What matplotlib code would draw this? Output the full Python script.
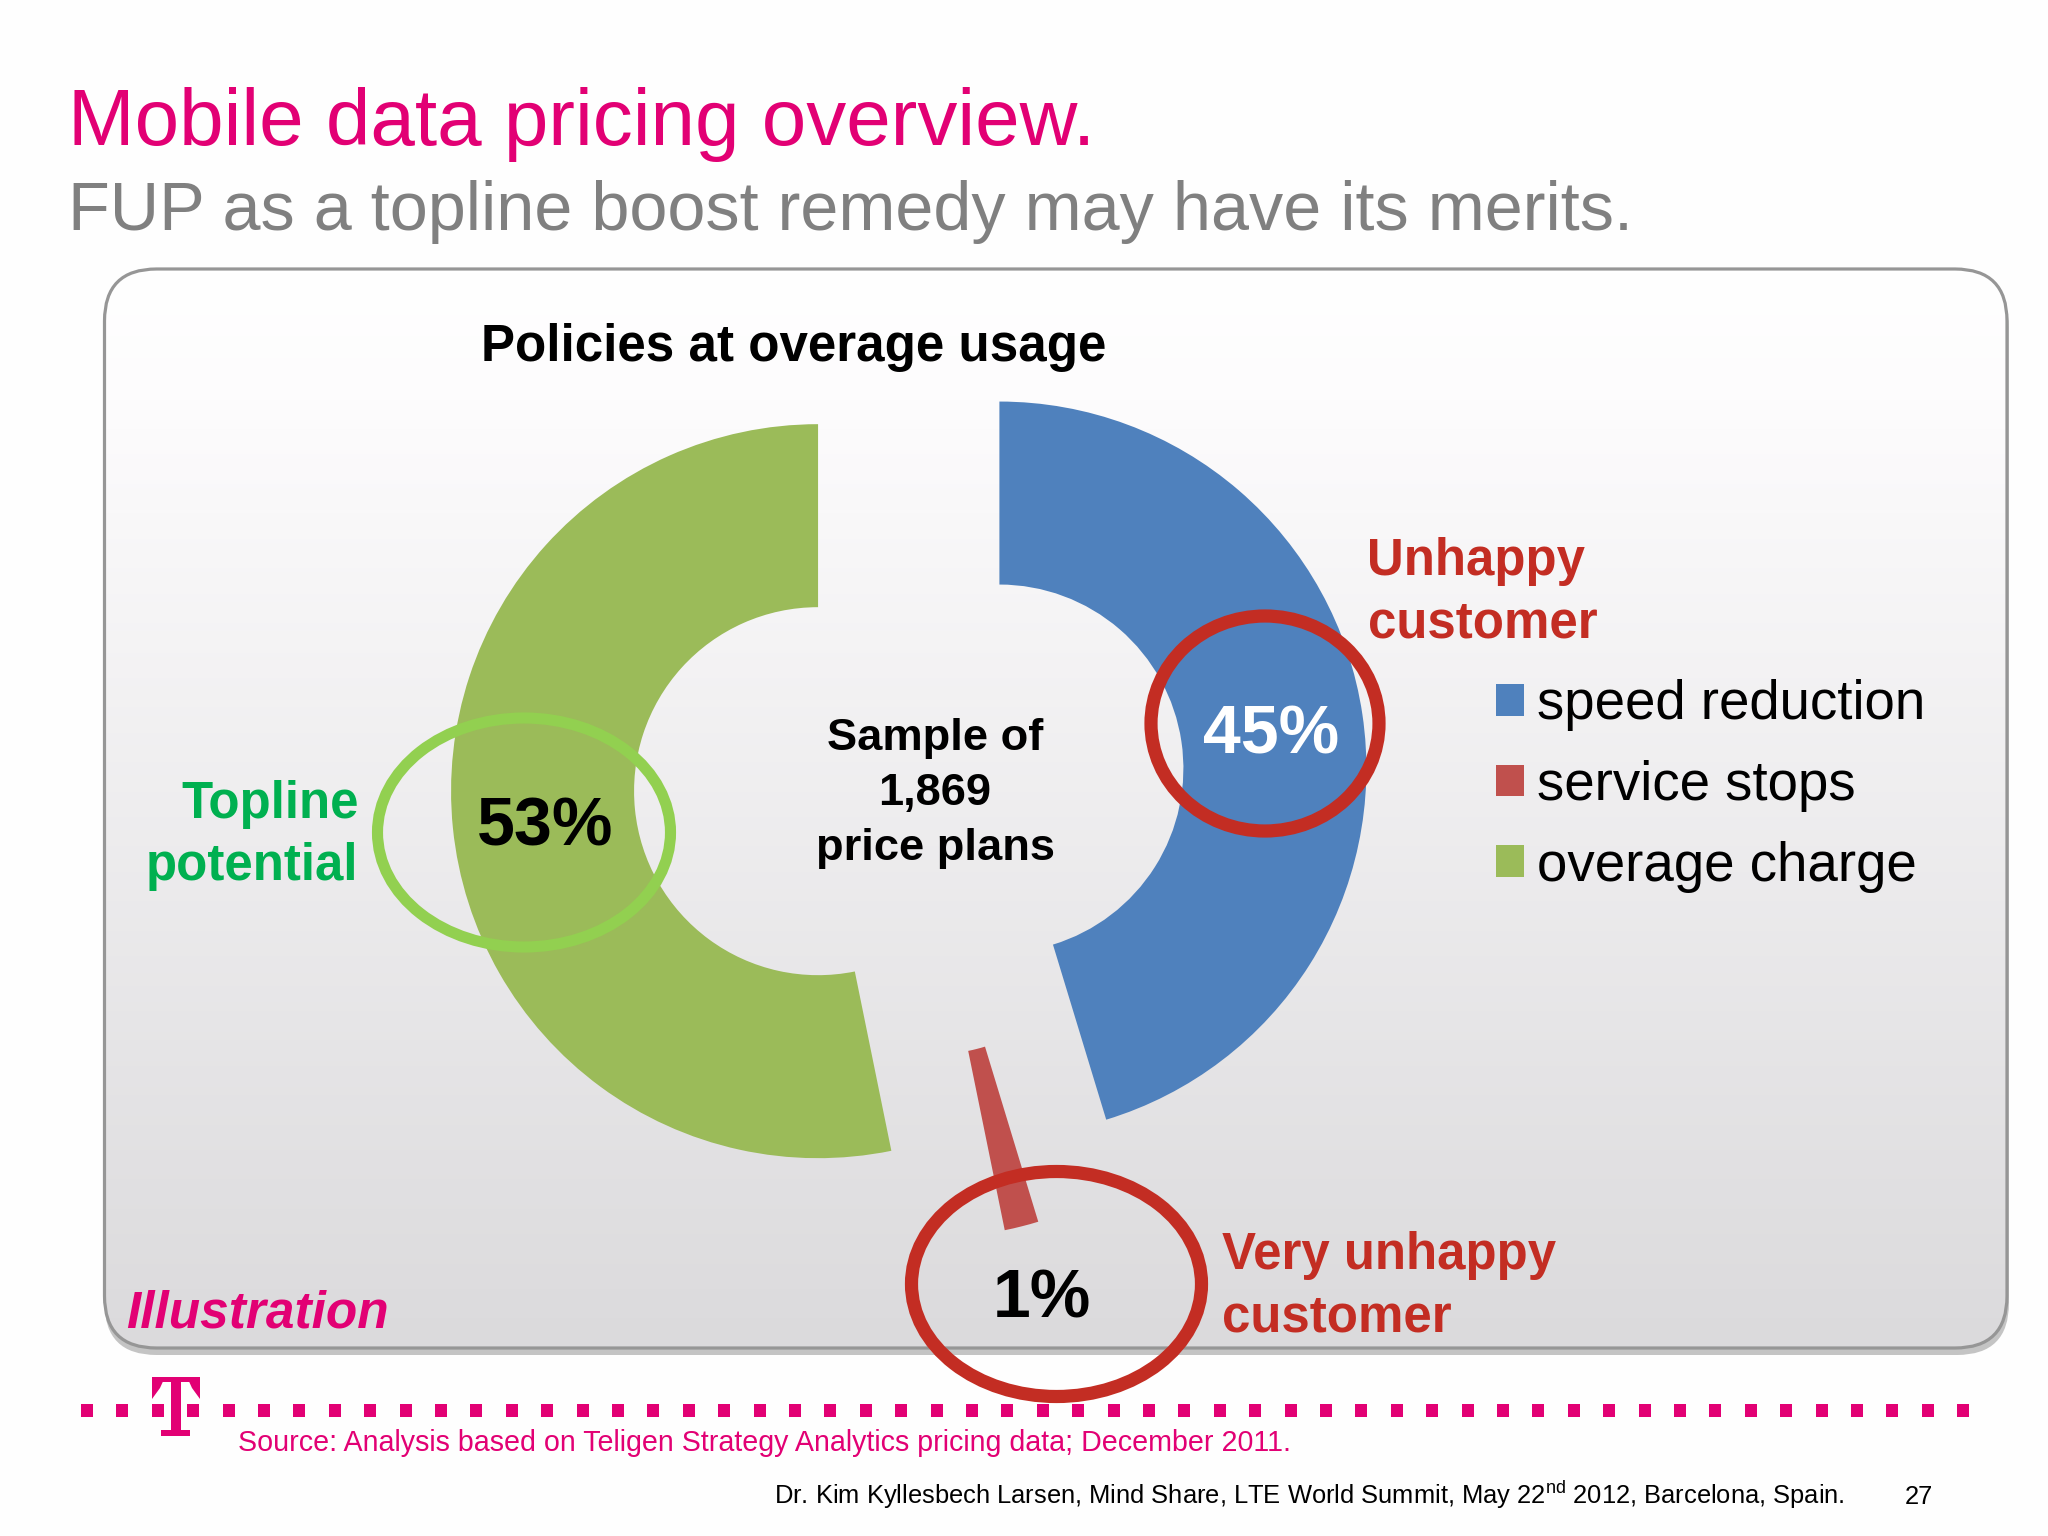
import numpy as np
import matplotlib
matplotlib.use('Agg')
import matplotlib.pyplot as plt
from matplotlib.colors import LinearSegmentedColormap
from matplotlib.patches import Ellipse, FancyBboxPatch, Rectangle

plt.rcParams['font.family'] = ['Liberation Sans', 'DejaVu Sans']
plt.rcParams['mathtext.default'] = 'regular'

policies = ['speed reduction', 'service stops', 'overage charge']
shares = [45.3, 1.5, 53.2]
share_labels = ['45%', '1%', '53%']
colors = ['#4F81BD', '#C0504D', '#9BBB59']

MAGENTA = '#E20074'
RED = '#C32D23'
GREEN = '#00B050'

fig = plt.figure(figsize=(20.48, 15.36), dpi=100, facecolor='#FEFEFE')
# whole figure is one axes in pixels, y going down like the slide
ax = fig.add_axes([0, 0, 1, 1])
ax.set_axis_off()

# panel with shadow and gradient
px0, px1, py0, py1 = 104.5, 2007, 269, 1348
box = 'round,pad=0,rounding_size=52'
ax.add_patch(FancyBboxPatch((px0, py0 + 7), px1 - px0 + 2, py1 - py0, boxstyle=box,
                            fc='#C4C4C4', ec='none', zorder=1))
panel = FancyBboxPatch((px0, py0), px1 - px0, py1 - py0, boxstyle=box,
                       fc='none', ec='#969696', lw=2.3, zorder=3)
ax.add_patch(panel)
grad = LinearSegmentedColormap.from_list('panel', [(0, '#FFFFFF'), (0.12, '#FDFCFD'), (1, '#DBDADC')])
img = ax.imshow(np.linspace(0, 1, 256).reshape(-1, 1), cmap=grad, aspect='auto',
                extent=(px0, px1, py1, py0), zorder=2)
img.set_clip_path(panel)

# donut, counterclock because the y axis is flipped
R = 367
wedges, _ = ax.pie(shares, colors=colors, startangle=-90, counterclock=True, center=(909, 782),
                   radius=R, explode=[91.4, 91.4, 91.4], frame=True,
                   wedgeprops=dict(width=183, linewidth=0, zorder=4))
ax.set_xlim(0, 2048)
ax.set_ylim(1536, 0)
ax.set_aspect('auto')
ax.set_axis_off()

# rings around the callouts
ax.add_patch(Ellipse((1265, 723.5), 228, 215, fc='none', ec=RED, lw=9.5, zorder=5))
ax.add_patch(Ellipse((524, 832.5), 293, 229, fc='none', ec='#92D050', lw=8, zorder=5))
ax.add_patch(Ellipse((1056.5, 1284), 290, 225, fc='none', ec=RED, lw=9.5, zorder=5))

# dotted line and T logo
for x in np.arange(81, 1960, 35.4):
    ax.add_patch(Rectangle((x, 1404), 12, 13, fc=MAGENTA, ec='none', zorder=5))
ax.add_patch(Rectangle((171, 1377), 10, 56, fc=MAGENTA, ec='none', zorder=5))
ax.add_patch(Rectangle((152, 1377), 48, 5, fc=MAGENTA, ec='none', zorder=5))
ax.add_patch(Rectangle((161, 1430), 29, 6, fc=MAGENTA, ec='none', zorder=5))
ax.fill([152, 152, 160, 165], [1377, 1399, 1388, 1377], color=MAGENTA, lw=0, zorder=5)
ax.fill([200, 200, 192, 187], [1377, 1399, 1388, 1377], color=MAGENTA, lw=0, zorder=5)


def label(x, y, s, size, color='black', weight='normal', ha='left', **kw):
    ax.text(x, y, s, fontsize=size, color=color, fontweight=weight, ha=ha, va='baseline', zorder=6, **kw)


label(68, 145, 'Mobile data pricing overview.', 57.6, MAGENTA)
label(68, 230, 'FUP as a topline boost remedy may have its merits.', 49.2, '#808080')
label(481, 361, 'Policies at overage usage', 36.8, weight='bold')
# multi-line texts sit on the baseline of their last line
label(935, 860, 'Sample of\n1,869\nprice plans', 32.6, weight='bold', ha='center', linespacing=1.44,
      multialignment='center')

label(1271.5, 753, share_labels[0], 49, 'white', 'bold', ha='center')
label(544.6, 846, share_labels[2], 49, 'black', 'bold', ha='center')
label(1042, 1317, share_labels[1], 49, 'black', 'bold', ha='center')

label(358.5, 880, 'Topline\npotential', 36.7, GREEN, 'bold', ha='right', linespacing=1.33, multialignment='right')
label(1367.5, 637, 'Unhappy\ncustomer', 36.7, RED, 'bold', linespacing=1.33)
label(1222, 1331, 'Very unhappy\ncustomer', 36.7, RED, 'bold', linespacing=1.33)
label(126, 1328, 'Illustration', 37, MAGENTA, 'bold', style='italic')
label(237.7, 1451, 'Source: Analysis based on Teligen Strategy Analytics pricing data; December 2011.', 20.6, MAGENTA)
label(1845, 1504, r'Dr. Kim Kyllesbech Larsen, Mind Share, LTE World Summit, May 22$^{nd}$ 2012, Barcelona, Spain.',
      18.4, ha='right')
label(1905, 1504, '27', 18.4)

leg = ax.legend(wedges, policies, loc='upper left', bbox_to_anchor=(1496, 679), bbox_transform=ax.transData,
                frameon=False, fontsize=39.3, handlelength=0.52, handleheight=0.52, handletextpad=0.23,
                labelspacing=0.527, borderpad=0, borderaxespad=0)
leg.set_zorder(6)

fig.savefig('out.png', dpi=100, facecolor=fig.get_facecolor())
